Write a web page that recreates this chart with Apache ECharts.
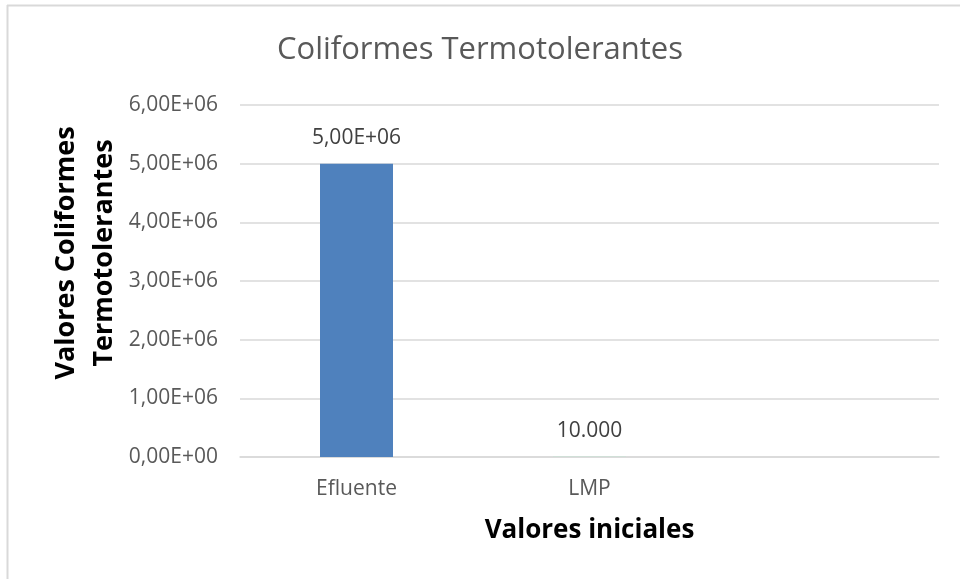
<!DOCTYPE html>
<html><head><meta charset="utf-8">
<script src="https://cdn.jsdelivr.net/npm/echarts@6/dist/echarts.min.js"></script>
<style>html,body{margin:0;padding:0;background:#fff}#c{width:960px;height:579px}</style>
</head><body><div id="c"></div>
<script>
const categories = ['Efluente', 'LMP', ''];
const values = [5000000, 10000, null];
const labelTexts = ['5,00E+06', '10.000', ''];
const barColors = ['#4f81bd', '#c6e3d3', '#ffffff'];
const yMax = 6000000, yStep = 1000000;

function sci(v) {
  if (v === 0) return '0,00E+00';
  const e = Math.floor(Math.log10(Math.abs(v)));
  const m = v / Math.pow(10, e);
  return m.toFixed(2).replace('.', ',') + 'E+' + String(e).padStart(2, '0');
}

const chart = echarts.init(document.getElementById('c'), null, {renderer: 'canvas'});
const font = 'Open Sans, Liberation Sans, sans-serif';
chart.setOption({
  animation: false,
  title: {
    text: 'Coliformes Termotolerantes', left: 'center', top: 30,
    textStyle: {fontFamily: font, fontSize: 31, fontWeight: 'normal', color: '#595959'}
  },
  grid: {left: 240, right: 21, top: 105, bottom: 122, containLabel: false},
  xAxis: {
    type: 'category', data: categories,
    axisLine: {show: true, lineStyle: {color: '#d9d9d9', width: 1.5}},
    axisTick: {show: false},
    axisLabel: {fontFamily: font, fontSize: 21, color: '#595959', margin: 22},
    name: 'Valores iniciales', nameLocation: 'middle', nameGap: 61,
    nameTextStyle: {fontFamily: font, fontSize: 26, fontWeight: 'bold', color: '#000'}
  },
  yAxis: {
    type: 'value', min: 0, max: yMax, interval: yStep,
    axisLine: {show: false}, axisTick: {show: false},
    splitLine: {lineStyle: {color: '#d9d9d9', width: 1.5}},
    axisLabel: {fontFamily: font, fontSize: 21, color: '#595959', margin: 22, formatter: sci}
  },
  graphic: [
    {type: 'line', shape: {x1: 7, y1: 5.5, x2: 960, y2: 5.5}, style: {stroke: '#d9d9d9', lineWidth: 2}},
    {type: 'line', shape: {x1: 7.5, y1: 5, x2: 7.5, y2: 579}, style: {stroke: '#d9d9d9', lineWidth: 2}},
    {type: 'text', x: 66, y: 253, rotation: Math.PI / 2, style: {
      text: 'Valores Coliformes', fontFamily: font, fontSize: 27, fontWeight: 'bold', fill: '#000',
      textAlign: 'center', textVerticalAlign: 'middle'}},
    {type: 'text', x: 104, y: 253, rotation: Math.PI / 2, style: {
      text: 'Termotolerantes', fontFamily: font, fontSize: 27, fontWeight: 'bold', fill: '#000',
      textAlign: 'center', textVerticalAlign: 'middle'}}
  ],
  series: [{
    type: 'bar', barWidth: 73,
    data: values.map((v, i) => ({value: v, itemStyle: {color: barColors[i]}})),
    label: {
      show: true, position: 'top', distance: 15,
      fontFamily: font, fontSize: 21, color: '#404040',
      formatter: p => labelTexts[p.dataIndex]
    }
  }]
});
</script></body></html>
